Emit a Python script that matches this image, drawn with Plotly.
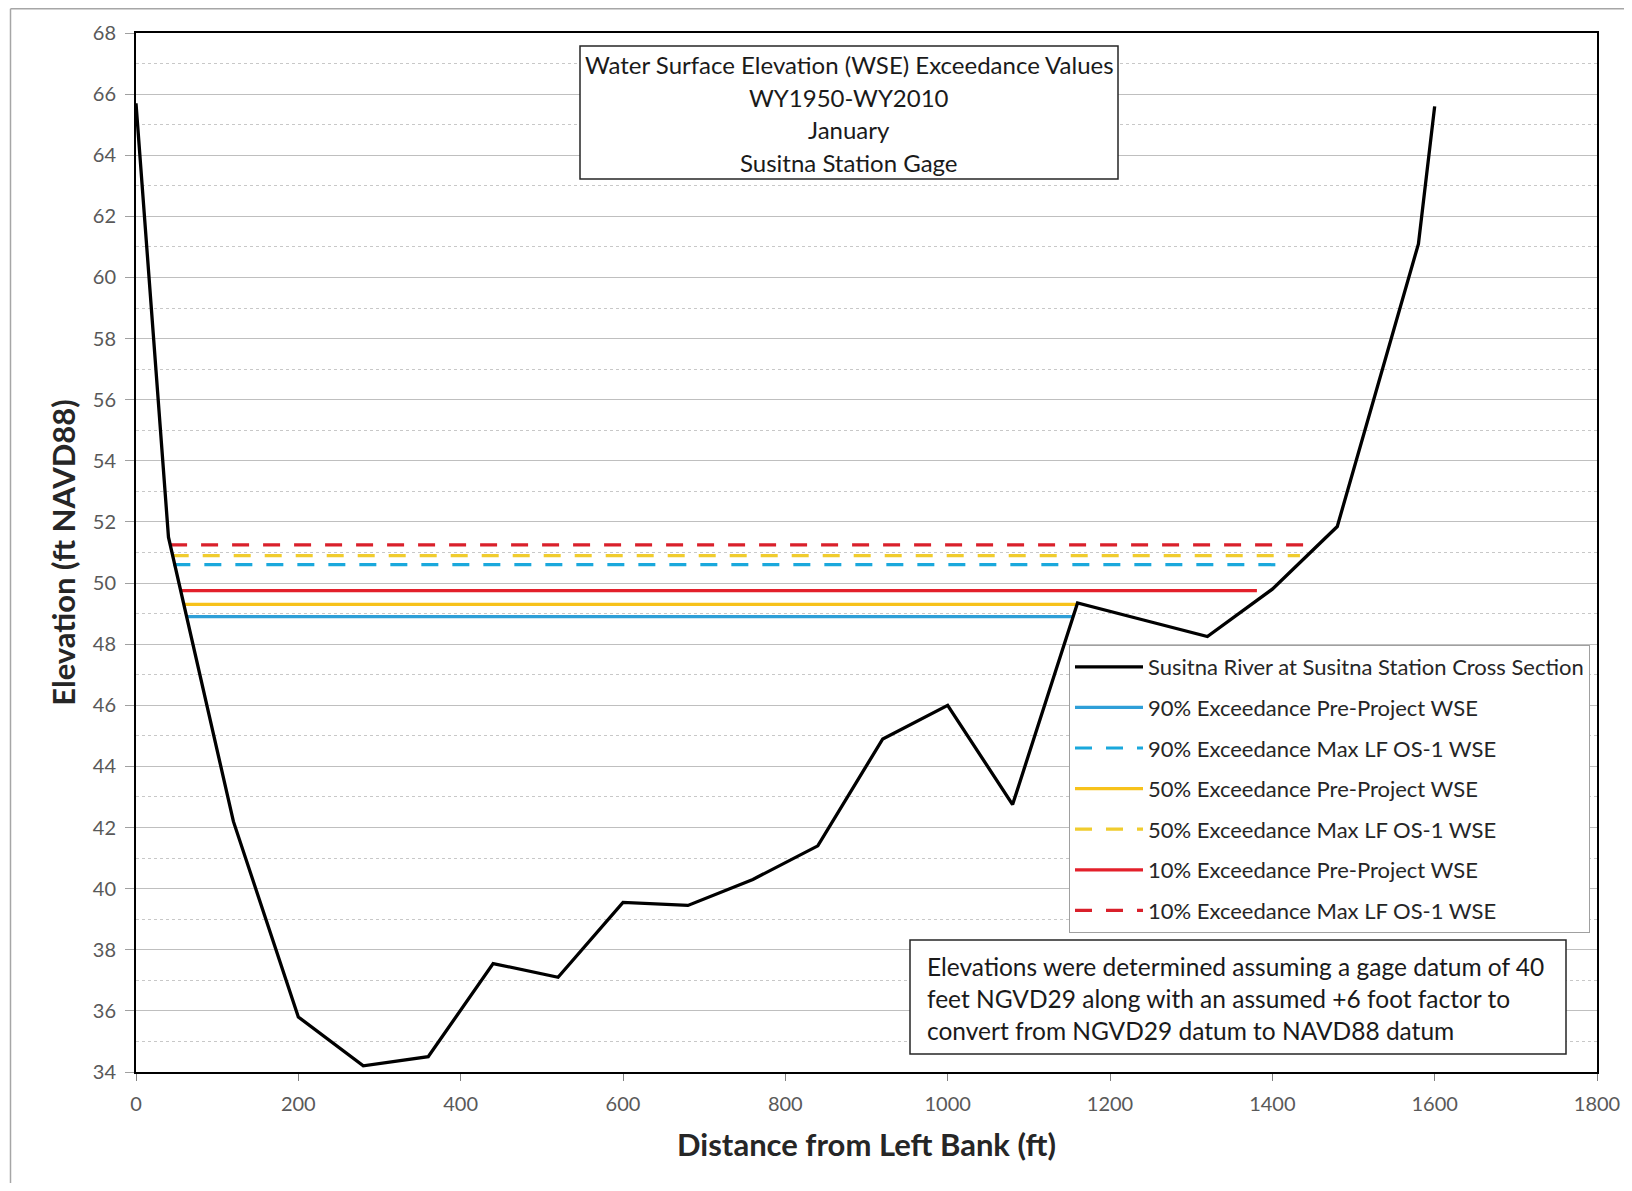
import plotly.graph_objects as go

# Cross section of the river (distance from left bank, elevation)
xs_distance = [0, 40, 120, 200, 280, 360, 440, 520, 600, 680, 760, 840, 920,
               1000, 1080, 1160, 1240, 1320, 1400, 1480, 1580, 1600]
xs_elevation = [65.7, 51.5, 42.2, 35.8, 34.2, 34.5, 37.55, 37.1, 39.55, 39.45, 40.3,
                41.4, 44.9, 46.0, 42.75, 49.35, 48.8, 48.25, 49.8, 51.85, 61.1, 65.6]

# Exceedance water surface elevations and the extents they span
wse_names = [
    "90% Exceedance Pre-Project WSE",
    "90% Exceedance Max LF OS-1 WSE",
    "50% Exceedance Pre-Project WSE",
    "50% Exceedance Max LF OS-1 WSE",
    "10% Exceedance Pre-Project WSE",
    "10% Exceedance Max LF OS-1 WSE",
]
wse_elev = [48.9, 50.6, 49.3, 50.9, 49.75, 51.25]
wse_x_start = [63, 46, 60, 44, 56, 42]
wse_x_end = [1155, 1418, 1160, 1434, 1381, 1450]
wse_colors = ["#2E9FD8", "#1AA8DC", "#F7C21B", "#F0CC2E", "#E3202B", "#D9202B"]
wse_dash = ["solid", "17px,14px", "solid", "17px,14px", "solid", "17px,14px"]

title_lines = ["Water Surface Elevation (WSE) Exceedance Values", "WY1950-WY2010",
               "January", "Susitna Station Gage"]
note_lines = ["Elevations were determined assuming a gage datum of 40",
              "feet NGVD29 along with an assumed +6 foot factor to",
              "convert from NGVD29 datum to NAVD88 datum"]

FONT = "Lato"
OFF = 8  # the page puts the figure 8px in from the window corner
W, H = 1616, 1175
L, T = 136 - OFF, 33 - OFF
R = W - (1597 - OFF)
B = H - (1072 - OFF)
PW, PH = W - L - R, H - T - B


def px_x(px):
    # window pixel -> paper coordinate
    return (px - OFF - L) / PW


def px_y(py):
    return (H - B - (py - OFF)) / PH


fig = go.Figure()

for i in range(len(wse_names)):
    fig.add_trace(go.Scatter(
        x=[wse_x_start[i], wse_x_end[i]],
        y=[wse_elev[i], wse_elev[i]],
        mode="lines",
        name=wse_names[i],
        legendrank=i + 2,
        legendgroup=str(i + 2),
        line=dict(color=wse_colors[i], width=3.2, dash=wse_dash[i])
    ))

fig.add_trace(go.Scatter(
    x=xs_distance,
    y=xs_elevation,
    mode="lines",
    name="Susitna River at Susitna Station Cross Section",
    legendrank=1,
    legendgroup="1",
    line=dict(color="black", width=3.3)
))

shapes = [
    # outer frame of the picture
    dict(type="line", xref="paper", yref="paper", x0=px_x(10.5), x1=px_x(10.5),
         y0=px_y(H + 20), y1=px_y(8.7), line=dict(color="#A6A6A6", width=1.5)),
    dict(type="line", xref="paper", yref="paper", x0=px_x(10.5), x1=px_x(W + 20),
         y0=px_y(8.7), y1=px_y(8.7), line=dict(color="#A6A6A6", width=1.5)),
    # title box
    dict(type="rect", xref="paper", yref="paper", x0=px_x(580), x1=px_x(1118),
         y0=px_y(179), y1=px_y(46), fillcolor="white",
         line=dict(color="#262626", width=1.5)),
    # note box
    dict(type="rect", xref="paper", yref="paper", x0=px_x(910), x1=px_x(1566),
         y0=px_y(1054), y1=px_y(940), fillcolor="white",
         line=dict(color="#262626", width=1.5)),
]

annotations = []
for k, line in enumerate(title_lines):
    annotations.append(dict(
        text=line, xref="paper", yref="paper", x=px_x(849), y=px_y(64.5 + k * 32.6),
        xanchor="center", yanchor="middle", showarrow=False,
        font=dict(family=FONT, size=24, color="#1A1A1A")
    ))
for k, line in enumerate(note_lines):
    annotations.append(dict(
        text=line, xref="paper", yref="paper", x=px_x(925), y=px_y(966 + k * 32),
        xanchor="left", yanchor="middle", showarrow=False,
        font=dict(family=FONT, size=24.5, color="#1A1A1A")
    ))

fig.update_layout(
    width=W, height=H,
    margin=dict(l=L, r=R, t=T, b=B, autoexpand=False),
    paper_bgcolor="white",
    plot_bgcolor="white",
    font=dict(family=FONT, color="#595959"),
    shapes=shapes,
    annotations=annotations,
    legend=dict(
        x=px_x(1069), y=px_y(645), xanchor="left", yanchor="top",
        bgcolor="white", bordercolor="#A0A0A0", borderwidth=1,
        font=dict(family=FONT, size=22, color="#262626"),
        tracegroupgap=9, itemwidth=68, traceorder="grouped"
    ),
    xaxis=dict(
        range=[0, 1800], dtick=200, tick0=0, automargin=False,
        showgrid=False, zeroline=False,
        showline=True, linecolor="black", linewidth=2, mirror=True,
        ticks="outside", ticklen=7, tickcolor="#808080",
        tickfont=dict(family=FONT, size=20, color="#595959"),
        ticklabelstandoff=6,
        title=dict(text="<b>Distance from Left Bank (ft)</b>", standoff=20,
                   font=dict(family=FONT, size=31, color="#262626"))
    ),
    yaxis=dict(
        range=[34, 68], dtick=2, tick0=34, automargin=False,
        showgrid=True, gridcolor="#BFBFBF", gridwidth=1, zeroline=False,
        showline=True, linecolor="black", linewidth=2, mirror=True,
        ticks="outside", ticklen=9, tickcolor="#A0A0A0",
        tickfont=dict(family=FONT, size=20, color="#595959"),
        ticklabelstandoff=5,
        minor=dict(dtick=1, showgrid=True, griddash="dot", gridcolor="#C8C8C8",
                   gridwidth=1, ticks=""),
        title=dict(text="<b>Elevation (ft NAVD88)</b>", standoff=8,
                   font=dict(family=FONT, size=31, color="#262626"))
    ),
)

fig.write_html("out.html")
